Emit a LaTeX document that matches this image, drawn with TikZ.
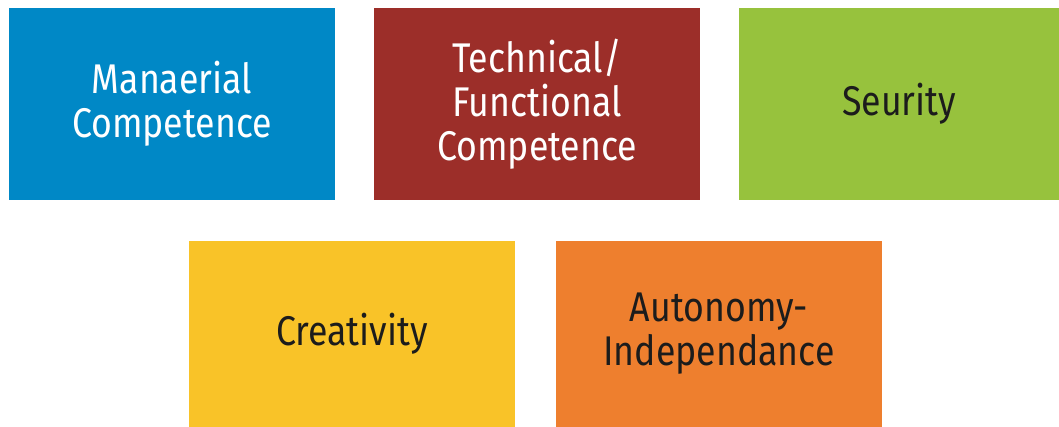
\documentclass[tikz,border=0pt]{standalone}
\usepackage{fontspec}
\setmainfont{Fira Sans}[FakeStretch=0.86]
\definecolor{cblue}{HTML}{0088C6}
\definecolor{cred}{HTML}{9C2E29}
\definecolor{cgreen}{HTML}{97C23D}
\definecolor{cyellow}{HTML}{F9C328}
\definecolor{corange}{HTML}{EE7F2E}
\definecolor{ctext}{HTML}{1C1C1C}
\tikzset{
  card/.style={inner sep=0pt, outer sep=0pt, minimum width=326pt, align=center,
    font=\fontsize{41.5}{44}\selectfont},
}
\begin{document}
\begin{tikzpicture}[x=1pt,y=-1pt]
\useasboundingbox (0,0) rectangle (1059,427);
\fill[white] (0,0) rectangle (1059,427);
\node[card, fill=cblue, text=white, minimum width=326pt, minimum height=192pt] (man) at (172,104) {Manaerial\\Competence};
\node[card, fill=cred, text=white, minimum width=326pt, minimum height=192pt] (tech) at (537,104) {Technical/\\Functional\\Competence};
\node[card, fill=cgreen, text=ctext, minimum width=320pt, minimum height=192pt] (sec) at (899,104) {Seurity};
\node[card, fill=cyellow, text=ctext, minimum width=326pt, minimum height=186pt] (cre) at (352,334) {Creativity};
\node[card, fill=corange, text=ctext, minimum width=326pt, minimum height=186pt] (auto) at (719,334) {Autonomy-\\Independance};
\end{tikzpicture}
\end{document}
